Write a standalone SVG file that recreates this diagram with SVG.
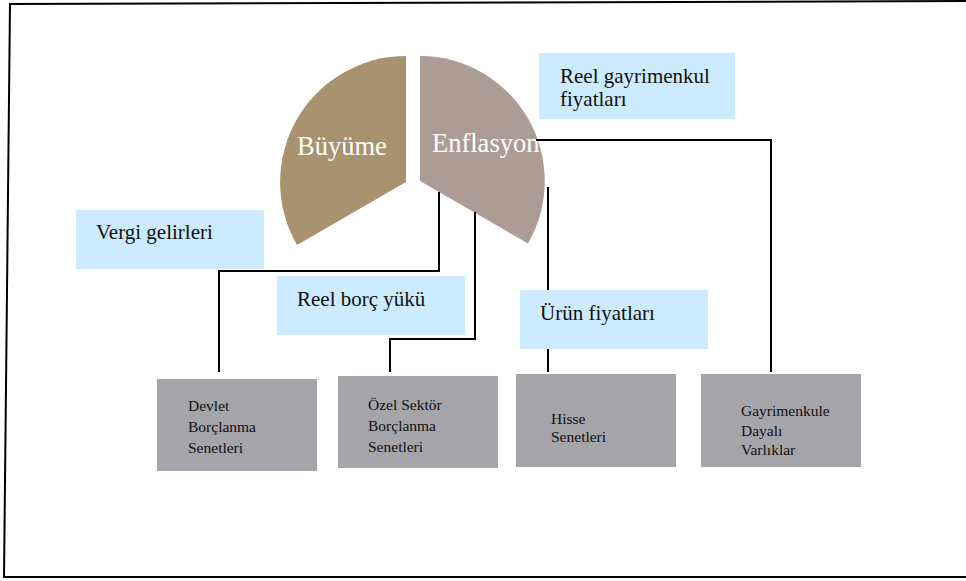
<svg xmlns="http://www.w3.org/2000/svg" width="966" height="581" viewBox="0 0 966 581">
<style>
.frame{stroke:#000;stroke-width:2;fill:none}
.conn{stroke:#000;stroke-width:2;fill:none}
.blue{fill:#CCEBFF}
.gray{fill:#A5A4A8}
.lbl{font-family:"Liberation Serif","Times New Roman",serif;fill:#111}
.big{font-size:21px}
.small{font-size:15.5px}
.pie{font-family:"Liberation Serif","Times New Roman",serif;font-size:26.5px;fill:#fff}
</style>
<rect width="966" height="581" fill="#fff"/>
<g id="frame">
<path class="frame" d="M9,4 L966,1"/>
<path class="frame" d="M10,3 L4,578"/>
<path class="frame" d="M4,577 H966"/>
</g>
<g id="buyume">
<path d="M406,182 L406,56 A126,126 0 0 0 297,245 Z" fill="#A89270"/>
<text class="pie" x="297" y="155">Büyüme</text>
</g>
<g id="enflasyon">
<path d="M420,181 L420,56 A125,125 0 0 1 528,243.5 Z" fill="#AD9C94"/>
<text class="pie" x="432" y="152">Enflasyon</text>
</g>
<g id="connectors">
<path class="conn" d="M219,372 V271 H439 V192"/>
<path class="conn" d="M390,372 V339 H475 V212"/>
<path class="conn" d="M548,372 V187"/>
<path class="conn" d="M771,372 V140 H536"/>
</g>
<g id="reel-gayrimenkul">
<rect class="blue" x="539" y="53" width="196" height="66"/>
<text class="lbl big" x="560" y="83">Reel gayrimenkul</text>
<text class="lbl big" x="560" y="106">fiyatları</text>
</g>
<g id="vergi">
<rect class="blue" x="76" y="210" width="188" height="59"/>
<text class="lbl big" x="96" y="239">Vergi gelirleri</text>
</g>
<g id="reel-borc">
<rect class="blue" x="277" y="276" width="188" height="59"/>
<text class="lbl big" x="297" y="306">Reel borç yükü</text>
</g>
<g id="urun">
<rect class="blue" x="520" y="290" width="188" height="59"/>
<text class="lbl big" x="540" y="320">Ürün fiyatları</text>
</g>
<g id="devlet">
<rect class="gray" x="157" y="379" width="160" height="92"/>
<text class="lbl small" x="188" y="411">Devlet</text>
<text class="lbl small" x="188" y="432">Borçlanma</text>
<text class="lbl small" x="188" y="453">Senetleri</text>
</g>
<g id="ozel">
<rect class="gray" x="338" y="376" width="160" height="92"/>
<text class="lbl small" x="368" y="410">Özel Sektör</text>
<text class="lbl small" x="368" y="431">Borçlanma</text>
<text class="lbl small" x="368" y="452">Senetleri</text>
</g>
<g id="hisse">
<rect class="gray" x="516" y="374" width="160" height="93"/>
<text class="lbl small" x="551" y="424">Hisse</text>
<text class="lbl small" x="551" y="442">Senetleri</text>
</g>
<g id="gayrimenkul">
<rect class="gray" x="701" y="374" width="160" height="93"/>
<text class="lbl small" x="741" y="416">Gayrimenkule</text>
<text class="lbl small" x="741" y="436">Dayalı</text>
<text class="lbl small" x="741" y="455">Varlıklar</text>
</g>
</svg>
